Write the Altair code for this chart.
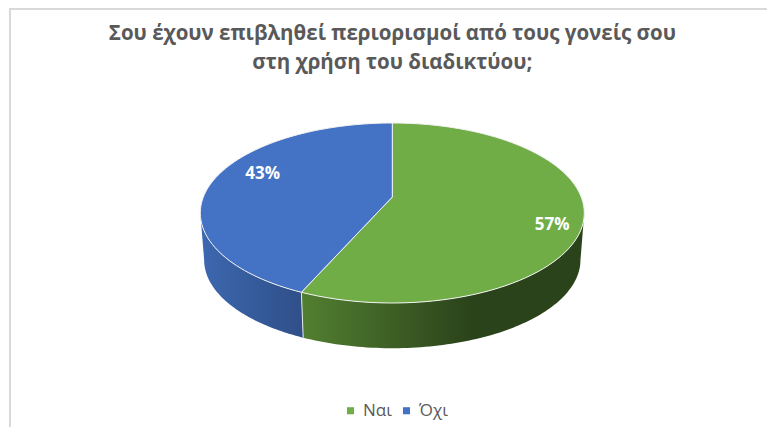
import math
import altair as alt
import pandas as pd

# ---- values
title_lines = ["Σου έχουν επιβληθεί περιορισμοί από τους γονείς σου", "στη χρήση του διαδικτύου;"]
answers = ["Ναι", "Όχι"]
shares = [56.6, 43.4]
colours = ["#70AD47", "#4472C4"]

# ---- geometry of the tilted disc (page pixels)
CX, CY_TOP, CY_BOTTOM = 392.3, 213.0, 260.0
RY = 90.0
APEX_SHIFT = 16.0
K = -APEX_SHIFT / RY
AX = 192.0 * math.sqrt(1 - K * K)
BOTTOM_SCALE = 0.98
SIDE_T = math.degrees(math.acos(K))


def project(t_deg, r=1.0, cy=CY_TOP, scale=1.0):
    t = math.radians(t_deg)
    u, v = r * math.sin(t), -r * math.cos(t)
    w = 1 + K * v
    return CX + scale * AX * u / w, cy + scale * (RY * v - APEX_SHIFT) / w


def degs(a, b, n=90):
    return [a + (b - a) * i / n for i in range(n + 1)]


split = 360 * shares[0] / sum(shares)
spans = [(0.0, split), (split, 360.0)]

top_rows = []
for name, (a, b) in zip(answers, spans):
    pts = [project(0, 0.0)] + [project(t) for t in degs(a, b)] + [project(0, 0.0)]
    for i, (x, y) in enumerate(pts):
        top_rows.append({"answer": name, "i": i, "x": x, "y": y})
top_df = pd.DataFrame(top_rows)


def wall(a, b):
    pts = [project(t) for t in degs(a, b)] + [
        project(t, cy=CY_BOTTOM, scale=BOTTOM_SCALE) for t in degs(b, a)
    ]
    return pd.DataFrame([{"i": i, "x": x, "y": y} for i, (x, y) in enumerate(pts)])


green_wall = wall(SIDE_T, split)
blue_wall = wall(split, 360 - SIDE_T)
divider = pd.DataFrame(
    [dict(zip(("x", "y"), project(split))) | {"i": 0},
     dict(zip(("x", "y"), project(split, cy=CY_BOTTOM, scale=BOTTOM_SCALE))) | {"i": 1}]
)

label_radius = [0.856, 0.77]
label_shift = 9.0
label_rows = []
for name, share, (a, b), r in zip(answers, shares, spans, label_radius):
    x, y = project((a + b) / 2 + label_shift, r)
    label_rows.append({"label": f"{round(share)}%", "x": x, "y": y})
label_df = pd.DataFrame(label_rows)

title_df = pd.DataFrame({"text": title_lines, "x": [CX, CX], "y": [40.0, 68.5]})

# ---- chart
W, H = 759, 349
PAD_TOP = 70
xs = alt.Scale(domain=[8, 8 + W], nice=False, zero=False)
ys = alt.Scale(domain=[PAD_TOP + 8 + H, PAD_TOP + 8], nice=False, zero=False)
X = alt.X("x:Q", scale=xs, axis=None)
Y = alt.Y("y:Q", scale=ys, axis=None)
ORDER = alt.Order("i:Q")


def grad(stops):
    return alt.Gradient(
        gradient="linear", x1=0, x2=1, y1=0, y2=0,
        stops=[alt.GradientStop(offset=o, color=c) for o, c in stops],
    )


green_side = alt.Chart(green_wall).mark_line(
    fill=grad([(0, "#527F31"), (0.6, "#2B431A"), (1, "#2B431A")]), stroke="transparent", strokeWidth=0
).encode(x=X, y=Y, order=ORDER)
blue_side = alt.Chart(blue_wall).mark_line(
    fill=grad([(0, "#3D68B0"), (1, "#2F4F88")]), stroke="transparent", strokeWidth=0
).encode(x=X, y=Y, order=ORDER)
div_line = alt.Chart(divider).mark_line(stroke="#E6E6E6", strokeWidth=1).encode(x=X, y=Y, order=ORDER)

top = alt.Chart(top_df).mark_line(stroke="#F2F2F2", strokeWidth=1, strokeJoin="round").encode(
    x=X, y=Y, order=ORDER,
    fill=alt.Fill(
        "answer:N",
        scale=alt.Scale(domain=answers, range=colours),
        legend=alt.Legend(
            title=None, orient="none", legendX=342 - 8, legendY=402 - 8 - PAD_TOP,
            direction="horizontal", columns=2, columnPadding=6,
            symbolType="square", symbolSize=50, symbolStrokeWidth=0, symbolStrokeColor="transparent",
            labelFont="Open Sans", labelFontSize=17, labelColor="#595959", labelOffset=4,
            symbolOffset=0,
        ),
    ),
)

labels = alt.Chart(label_df).mark_text(
    font="Open Sans", fontWeight="bold", fontSize=17, color="white", baseline="middle", align="center"
).encode(x=X, y=Y, text="label:N")

title_text = alt.Chart(title_df).mark_text(
    font="Open Sans", fontWeight="bold", fontSize=20.5, color="#595959", baseline="alphabetic", align="center"
).encode(x=X, y=Y, text="text:N")

frame_left = alt.Chart(pd.DataFrame({"k": [0]})).mark_rule(color="#D9D9D9", strokeWidth=2).encode(
    x=alt.value(2), y=alt.value(-PAD_TOP), y2=alt.value(H + 8)
)
frame_top = alt.Chart(pd.DataFrame({"k": [0]})).mark_rule(color="#D9D9D9", strokeWidth=2).encode(
    y=alt.value(-PAD_TOP + 1), x=alt.value(2), x2=alt.value(W + 8)
)

chart = alt.layer(frame_left, frame_top, blue_side, green_side, div_line, top, labels, title_text).properties(
    width=W,
    height=H,
    padding={"left": 0, "top": PAD_TOP, "right": 0, "bottom": 0},
    autosize=alt.AutoSizeParams(type="none"),
).configure_view(stroke=None)

chart.save("out.html", embed_options={"renderer": "svg", "actions": False})
